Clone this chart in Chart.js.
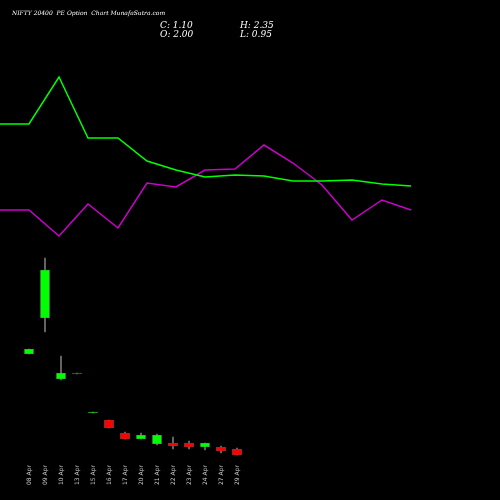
<!DOCTYPE html><html><head><script src="https://cdn.jsdelivr.net/npm/chart.js@4"></script>
<style>body{margin:0;background:#000}#w{width:500px;height:500px}</style></head><body><div id="w"><canvas id="c"></canvas></div>
<script>
const dates=["08 Apr","09 Apr","10 Apr","13 Apr","15 Apr","16 Apr","17 Apr","20 Apr","21 Apr","22 Apr","23 Apr","24 Apr","27 Apr","29 Apr"];
const candleX=[29,45,61,77,93,109,125,141,157,173,189,205,221,237];
const opens=[354,318,379,373,413,420,433,439,444,443,443,447,447,449];
const closes=[349,270,373,374,412,428,439,435,435,446,447,443,451,455];
const highs=[349,258,356,373,412,420,432,433,434,437,441,443,446,448];
const lows=[354,332,380,374,413,428,439,439,445,449,449,450,453,455];
const lineX=[0,29,59,88,118,147,176,205,235,264,293,322,352,382,411];
const greenLine=[124,124,77,138,138,161,170,177,175,176,181,181,180,184,186];
const purpleLine=[210,210,236,204,228,183,187,170,169,145,163,185,220,200,210];
const colorOf=i=>closes[i]<opens[i]?'#00ff00':(closes[i]===opens[i]?'#aaaaaa':'#ff0000');
const texts={id:'t',afterDraw(ch){const c=ch.ctx,x=ch.scales.x;c.save();c.fillStyle='#fff';c.font='italic 6px "DejaVu Serif"';c.fillText('NIFTY 20400  PE Option  Chart MunafaSutra.com',12,15);c.font='italic 9px "DejaVu Serif"';c.fillText('C: 1.10',160,28);c.fillText('O: 2.00',160,37);c.fillText('H: 2.35',240,28);c.fillText('L: 0.95',240,37);c.font='6px "DejaVu Sans"';c.fillStyle='#ccc';dates.forEach((d,i)=>{c.save();c.translate(x.getPixelForValue(candleX[i])+2,485);c.rotate(-Math.PI/2);c.fillText(d,0,0);c.restore();});c.restore();}};
new Chart(document.getElementById('c'),{type:'bar',data:{datasets:[
{type:'line',data:lineX.map((x,i)=>({x,y:greenLine[i]})),borderColor:'#00ff00',borderWidth:1.5,pointRadius:0,tension:0},
{type:'line',data:lineX.map((x,i)=>({x,y:purpleLine[i]})),borderColor:'#cc00cc',borderWidth:1.5,pointRadius:0,tension:0},
{data:candleX.map((x,i)=>({x,y:[Math.min(opens[i],closes[i]),Math.max(opens[i],closes[i])+0.01]})),backgroundColor:candleX.map((x,i)=>colorOf(i)),borderColor:'#666',borderWidth:0.5,barThickness:9,borderSkipped:false,grouped:false,order:1},
{data:candleX.map((x,i)=>({x,y:[highs[i],lows[i]]})),backgroundColor:'#777',barThickness:1,grouped:false,order:2}
]},options:{animation:false,responsive:true,maintainAspectRatio:false,layout:{padding:0},plugins:{legend:{display:false},tooltip:{enabled:false}},
scales:{x:{type:'linear',min:0,max:500,display:false,offset:false},y:{min:0,max:500,reverse:true,display:false}}},plugins:[texts]});
</script></body></html>
